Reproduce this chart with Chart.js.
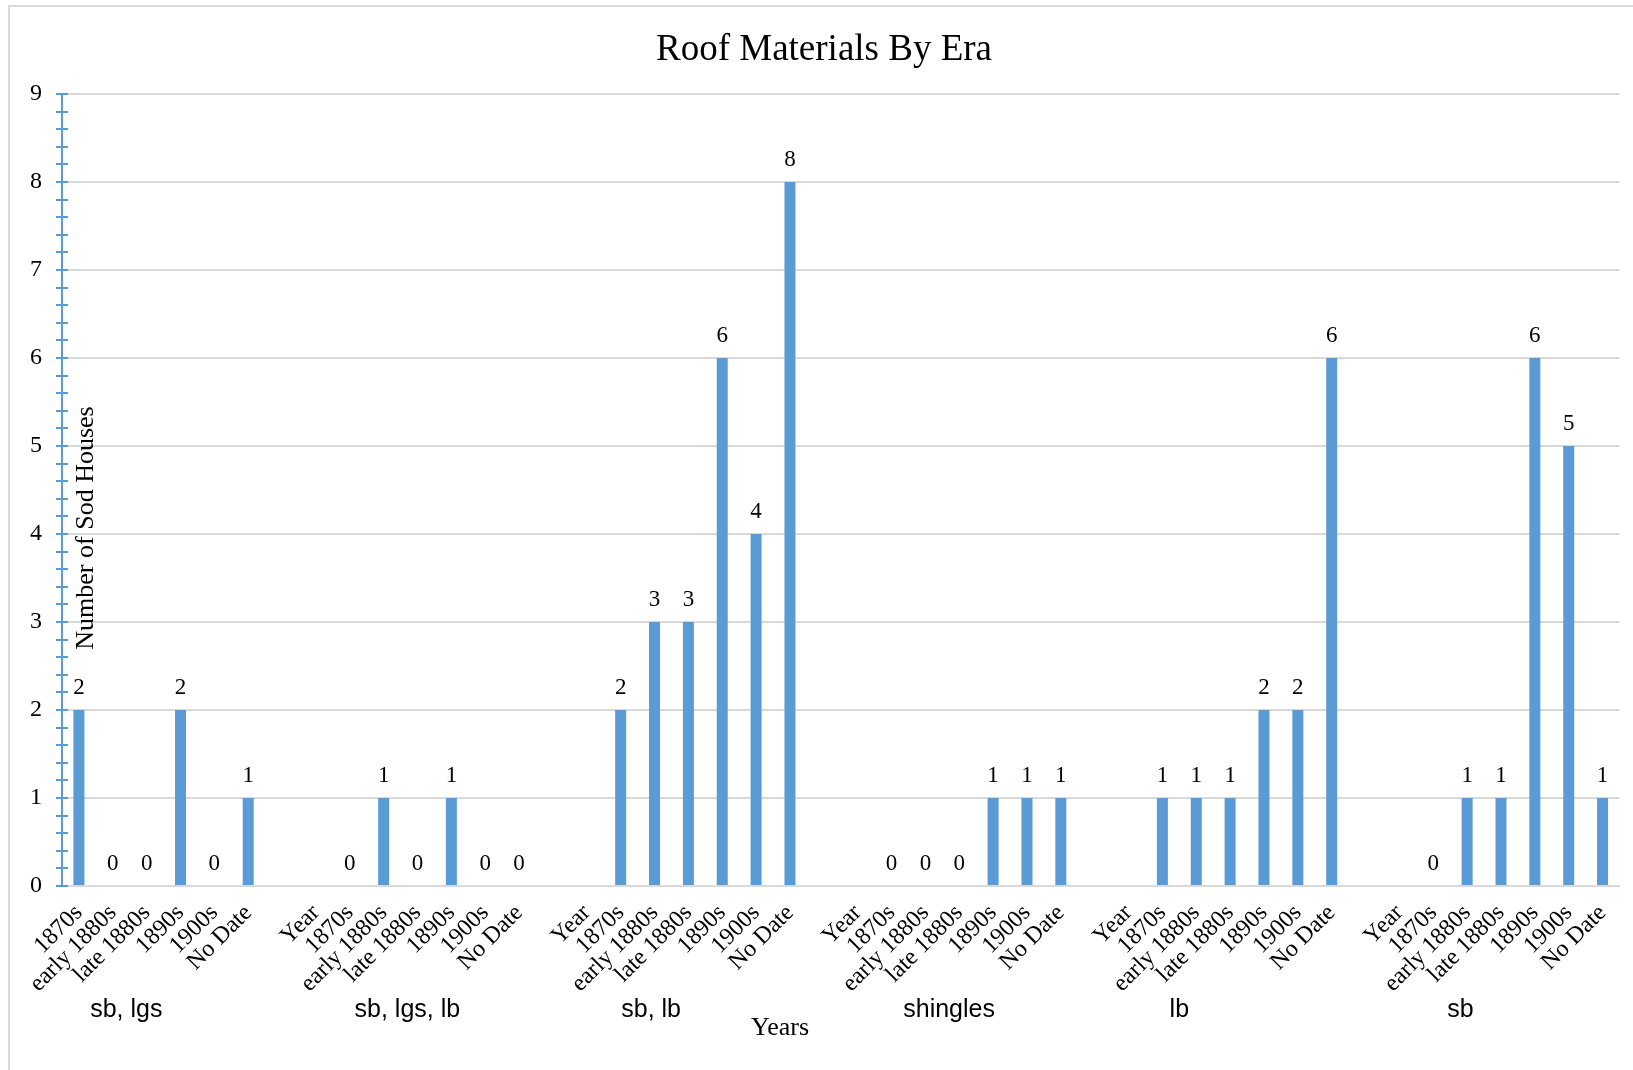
<!DOCTYPE html>
<html>
<head>
<meta charset="utf-8">
<title>Roof Materials By Era</title>
<script src="https://cdn.jsdelivr.net/npm/chart.js@4.4.1/dist/chart.umd.min.js"></script>
<style>
  html, body { margin: 0; padding: 0; background: #fff; }
  #wrap { position: relative; width: 1633px; height: 1070px; }
</style>
</head>
<body>
<div id="wrap"><canvas id="roof-chart"></canvas></div>
<script>
// Roof materials by era - grouped category bar chart
(function () {
  "use strict";

  // --- data ---
  const groupNames = ["sb, lgs", "sb, lgs, lb", "sb, lb", "shingles", "lb", "sb"];
  const eraLabels = ["1870s", "early 1880s", "late 1880s", "1890s", "1900s", "No Date"];
  const sbLgs = [2, 0, 0, 2, 0, 1];
  const sbLgsLb = [0, 1, 0, 1, 0, 0];
  const sbLb = [2, 3, 3, 6, 4, 8];
  const shingles = [0, 0, 0, 1, 1, 1];
  const lb = [1, 1, 1, 2, 2, 6];
  const sb = [0, 1, 1, 6, 5, 1];
  const groupValues = [sbLgs, sbLgsLb, sbLb, shingles, lb, sb];
  const yTicks = [0, 1, 2, 3, 4, 5, 6, 7, 8, 9];

  // where the group captions sit, in category units (as in the original)
  const groupLabelAt = [1.4, 9.7, 16.9, 25.7, 32.5, 40.8];

  const BLUE = "#5B9BD5";
  const GRID = "#D9D9D9";
  const SERIF = "'Liberation Serif', 'Times New Roman', serif";
  const SANS = "'Liberation Sans', Arial, sans-serif";

  // flatten groups: first group has no "Year" row, a blank slot separates groups
  const categories = [];
  const counts = [];
  groupValues.forEach((vals, g) => {
    if (g > 0) {
      categories.push("Year");
      counts.push(null);
    }
    eraLabels.forEach((lbl, i) => {
      categories.push(lbl);
      counts.push(vals[i]);
    });
    if (g < groupValues.length - 1) {
      categories.push("");
      counts.push(null);
    }
  });

  const decorPlugin = {
    id: "decor",
    beforeDraw(chart) {
      const ctx = chart.ctx;
      ctx.save();
      ctx.strokeStyle = GRID;
      ctx.lineWidth = 2;
      ctx.beginPath();
      ctx.moveTo(9, chart.height);
      ctx.lineTo(9, 6);
      ctx.lineTo(chart.width, 6);
      ctx.stroke();
      ctx.restore();
    },
    afterDatasetsDraw(chart) {
      const ctx = chart.ctx;
      const x = chart.scales.x;
      const y = chart.scales.y;
      const area = chart.chartArea;
      ctx.save();

      // minor + major tick marks crossing the y axis
      ctx.strokeStyle = BLUE;
      ctx.lineWidth = 2;
      ctx.beginPath();
      for (let i = 0; i <= yTicks[yTicks.length - 1] * 5; i++) {
        const py = Math.round(y.getPixelForValue(i / 5));
        ctx.moveTo(area.left - 6, py);
        ctx.lineTo(area.left + 6, py);
      }
      ctx.stroke();

      // value labels above bars
      ctx.fillStyle = "#000";
      ctx.font = "23px " + SERIF;
      ctx.textAlign = "center";
      ctx.textBaseline = "alphabetic";
      const meta = chart.getDatasetMeta(0);
      meta.data.forEach((bar, i) => {
        const v = counts[i];
        if (v === null || v === undefined) return;
        ctx.fillText(String(v), bar.x, bar.y - 16);
      });

      // group captions under the rotated era labels
      ctx.font = "25px " + SANS;
      ctx.textBaseline = "middle";
      groupNames.forEach((name, g) => {
        ctx.fillText(name, x.getPixelForValue(groupLabelAt[g]), 1010);
      });

      // axis titles and chart title
      ctx.font = "26px " + SERIF;
      ctx.fillText("Years", 780, 1028);
      ctx.save();
      ctx.translate(86, 528);
      ctx.rotate(-Math.PI / 2);
      ctx.fillText("Number of Sod Houses", 0, 0);
      ctx.restore();

      ctx.font = "37px " + SERIF;
      ctx.fillText("Roof Materials By Era", 824, 50);
      ctx.restore();
    },
  };

  const canvas = document.getElementById("roof-chart");
  new Chart(canvas.getContext("2d"), {
    type: "bar",
    data: {
      labels: categories,
      datasets: [
        {
          label: "Number of Sod Houses",
          data: counts,
          backgroundColor: BLUE,
          borderWidth: 0,
          barPercentage: 0.325,
          categoryPercentage: 1,
        },
      ],
    },
    options: {
      responsive: true,
      maintainAspectRatio: false,
      devicePixelRatio: 1,
      animation: false,
      layout: { padding: { top: 94, right: 13.5, left: 0, bottom: 0 } },
      plugins: {
        legend: { display: false },
        tooltip: { enabled: false },
        title: { display: false },
      },
      scales: {
        x: {
          offset: true,
          grid: { display: false, drawTicks: false },
          border: { color: GRID, width: 2 },
          ticks: {
            autoSkip: false,
            maxRotation: 45,
            minRotation: 45,
            padding: 13,
            color: "#000",
            font: { family: SERIF, size: 24 },
          },
          afterFit(scale) {
            scale.height = 184;
            // rotated labels must not shrink the plot area
            scale.paddingLeft = 0;
            scale.paddingRight = 0;
          },
        },
        y: {
          min: yTicks[0],
          max: yTicks[yTicks.length - 1],
          grid: { color: GRID, lineWidth: 2, drawTicks: false },
          border: { color: BLUE, width: 2 },
          ticks: {
            stepSize: 1,
            padding: 20,
            color: "#000",
            font: { family: SERIF, size: 24 },
          },
          afterFit(scale) {
            scale.width = 62;
          },
        },
      },
    },
    plugins: [decorPlugin],
  });
})();
</script>
</body>
</html>
